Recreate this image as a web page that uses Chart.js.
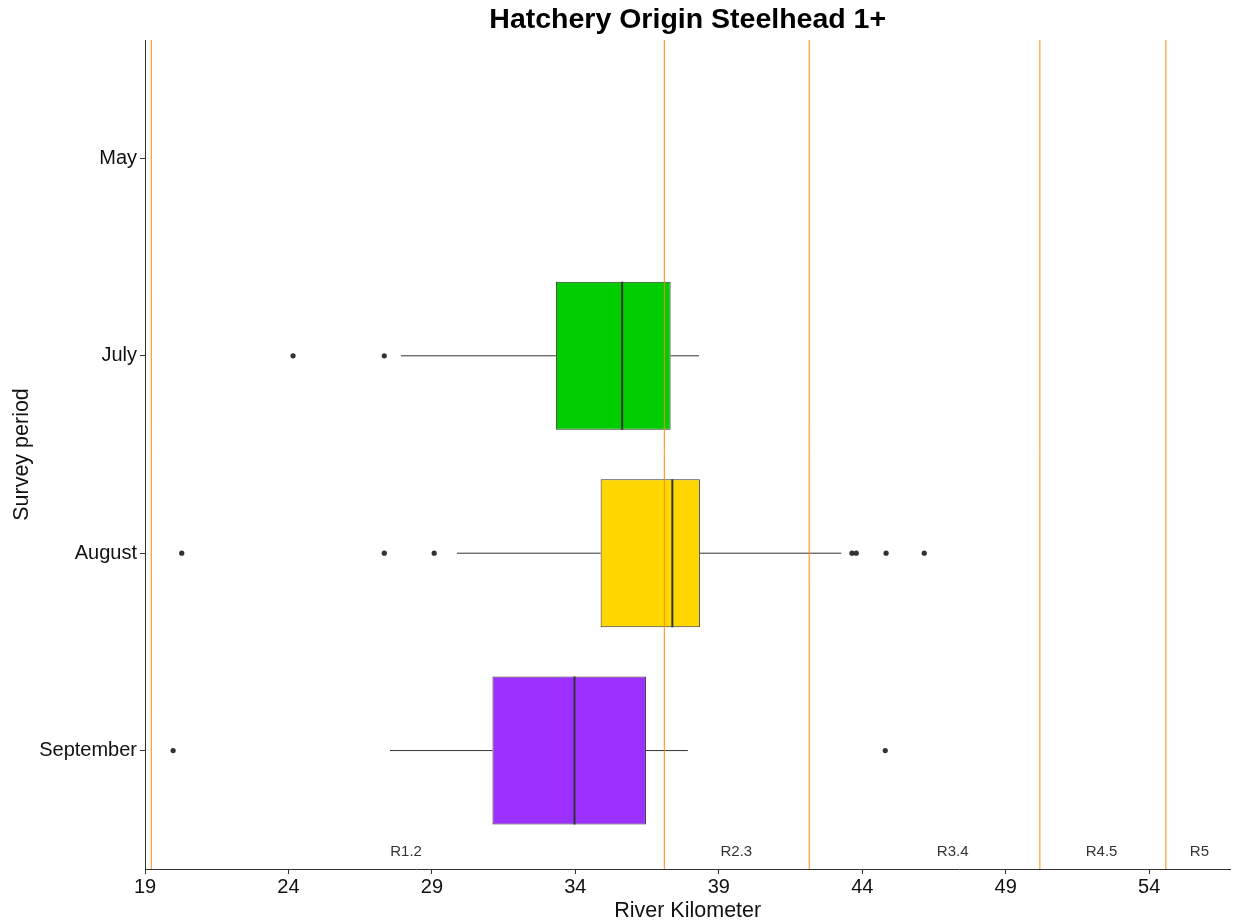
<!DOCTYPE html>
<html><head><meta charset="utf-8">
<script src="https://cdn.jsdelivr.net/npm/chart.js@4.4.0/dist/chart.umd.min.js"></script>
<style>html,body{margin:0;padding:0;background:#fff}#wrap{width:1233px;height:924px;position:relative}</style>
</head><body><div id="wrap"><canvas id="c"></canvas></div>
<script>
// ---- data ----
const periods = ['September', 'August', 'July', 'May'];   // bottom to top
const periodPos = [1, 2, 3, 4];
const boxColors = ['#9B30FF', '#FFD700', '#00CD00', '#cccccc'];
const q1 = [31.11, 34.88, 33.32, null];
const median = [33.97, 37.38, 35.63, null];
const q3 = [36.46, 38.34, 37.32, null];
const whiskerLow = [27.54, 29.87, 27.92, null];
const whiskerHigh = [37.92, 43.27, 38.31, null];
const outliersSeptember = [19.98, 44.80];
const outliersAugust = [20.28, 27.34, 29.08, 43.64, 43.79, 44.83, 46.16];
const outliersJuly = [24.16, 27.34];
const outliersMay = [];
const reachBreaks = [19.22, 37.10, 42.15, 50.19, 54.58];
const reachLabels = ['R1.2', 'R2.3', 'R3.4', 'R4.5', 'R5'];
const reachLabelPos = [28.10, 39.61, 47.15, 52.34, 55.75];
const xTicks = [19, 24, 29, 34, 39, 44, 49, 54];

// ---- styling constants ----
const BOX_HALF = 0.375;
const Y_MIN = 0.4, Y_MAX = 4.6;
const X_MIN = 19, X_MAX = 56.83;
const INK = '#333333';
const ORANGE = '#FF8C00';
const FONT = "'Liberation Sans', Arial, sans-serif";

const datasets = [];

// reach boundary lines (on top)
reachBreaks.forEach(b => {
  datasets.push({
    type: 'scatter', indexAxis: 'x', showLine: true, order: 0,
    data: [{x: b, y: Y_MIN}, {x: b, y: Y_MAX}],
    borderColor: ORANGE, borderWidth: 1, pointRadius: 0, pointHoverRadius: 0
  });
});

// outliers
const outlierSets = [outliersSeptember, outliersAugust, outliersJuly, outliersMay];
const outlierPts = [];
outlierSets.forEach((arr, i) => arr.forEach(v => outlierPts.push({x: v, y: periodPos[i]})));
datasets.push({
  type: 'scatter', indexAxis: 'x', order: 1, data: outlierPts,
  backgroundColor: INK, borderColor: INK, borderWidth: 0, pointRadius: 2.6, pointHoverRadius: 2.6
});

// medians, whiskers, boxes
const boxData = [];
const boxBg = [];
periodPos.forEach((p, i) => {
  if (q1[i] === null) return;
  datasets.push({
    type: 'scatter', indexAxis: 'x', showLine: true, order: 2,
    data: [{x: median[i], y: p - BOX_HALF}, {x: median[i], y: p + BOX_HALF}],
    borderColor: INK, borderWidth: 2, pointRadius: 0, pointHoverRadius: 0
  });
  datasets.push({
    type: 'scatter', indexAxis: 'x', showLine: true, order: 3,
    data: [{x: whiskerLow[i], y: p}, {x: q1[i], y: p}],
    borderColor: INK, borderWidth: 1, pointRadius: 0, pointHoverRadius: 0
  });
  datasets.push({
    type: 'scatter', indexAxis: 'x', showLine: true, order: 3,
    data: [{x: q3[i], y: p}, {x: whiskerHigh[i], y: p}],
    borderColor: INK, borderWidth: 1, pointRadius: 0, pointHoverRadius: 0
  });
  boxData.push({y: p, x: [q1[i], q3[i]]});
  boxBg.push(boxColors[i]);
});
datasets.push({
  type: 'bar', indexAxis: 'y', order: 5, data: boxData,
  backgroundColor: boxBg, borderColor: INK, borderWidth: 1, borderSkipped: false,
  barPercentage: 0.75, categoryPercentage: 1.0
});

const reachLabelPlugin = {
  id: 'reachLabels',
  afterDatasetsDraw(chart) {
    const {ctx, scales} = chart;
    ctx.save();
    ctx.font = "15px " + FONT;
    ctx.fillStyle = INK;
    ctx.textAlign = 'center';
    ctx.textBaseline = 'middle';
    const yPix = scales.y.getPixelForValue(0.488);
    reachLabels.forEach((t, i) => {
      ctx.fillText(t, scales.x.getPixelForValue(reachLabelPos[i]), yPix);
    });
    ctx.restore();
  }
};

new Chart(document.getElementById('c'), {
  type: 'bar',
  data: {datasets},
  plugins: [reachLabelPlugin],
  options: {
    indexAxis: 'y',
    responsive: true, maintainAspectRatio: false, animation: false,
    layout: {padding: {left: 0, right: 0, top: 0, bottom: 0}},
    plugins: {
      legend: {display: false},
      tooltip: {enabled: false},
      title: {
        display: true, text: 'Hatchery Origin Steelhead 1+', fullSize: false,
        color: '#000', font: {family: FONT, size: 28.5, weight: 'bold', lineHeight: 1.2},
        padding: {top: 2.6, bottom: 3.2}
      }
    },
    scales: {
      x: {
        type: 'linear', min: X_MIN, max: X_MAX, offset: false, beginAtZero: false,
        afterBuildTicks: s => { s.ticks = xTicks.map(v => ({value: v})); },
        afterFit: s => { s.height = 55; },
        ticks: {color: '#111', font: {family: FONT, size: 20}, padding: 1, maxRotation: 0, autoSkip: false},
        grid: {display: true, drawOnChartArea: false, drawTicks: true, tickLength: 5, color: INK, offset: false},
        border: {display: true, color: INK, width: 1},
        title: {display: true, text: 'River Kilometer', color: '#111',
                font: {family: FONT, size: 21.5}, padding: {top: 0, bottom: 0}}
      },
      y: {
        type: 'linear', min: Y_MIN, max: Y_MAX, offset: false, beginAtZero: false,
        afterBuildTicks: s => { s.ticks = periodPos.map(v => ({value: v})); },
        afterFit: s => { s.width = 145; },
        ticks: {color: '#111', font: {family: FONT, size: 20}, padding: 3, autoSkip: false,
                callback: v => periods[periodPos.indexOf(v)]},
        grid: {display: true, drawOnChartArea: false, drawTicks: true, tickLength: 5, color: INK, offset: false},
        border: {display: true, color: INK, width: 1},
        title: {display: true, text: 'Survey period', color: '#111',
                font: {family: FONT, size: 21.5}, padding: {top: 9, bottom: 0}}
      }
    }
  }
});
</script></body></html>
